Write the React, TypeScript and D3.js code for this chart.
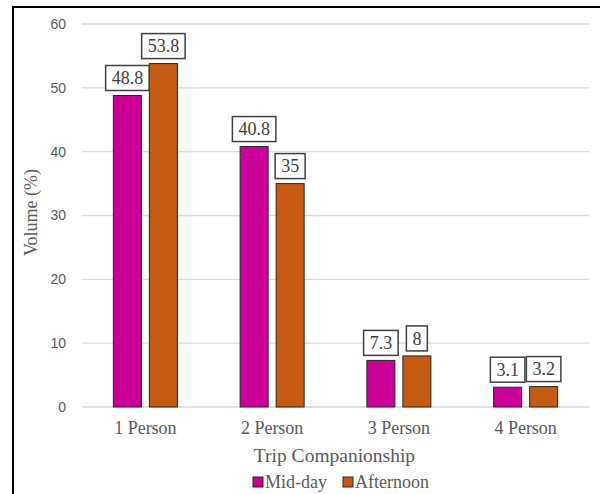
import React, { useEffect, useRef } from "react";
import * as d3 from "d3";

const categories = ["1 Person", "2 Person", "3 Person", "4 Person"];
const seriesNames = ["Mid-day", "Afternoon"];
const midDay = [48.8, 40.8, 7.3, 3.1];
const afternoon = [53.8, 35, 8, 3.2];
const yTicks = [0, 10, 20, 30, 40, 50, 60];
const seriesColors = ["#CC0099", "#C55A11"];

const W = 600;
const H = 494;
const SERIF = "Liberation Serif";
const SANS = "Liberation Sans";

export default function App() {
  const ref = useRef<SVGSVGElement | null>(null);

  useEffect(() => {
    const svg = d3.select(ref.current);
    svg.selectAll("*").remove();

    const left = 82;
    const right = 589;
    const top = 24;
    const bottom = 407;

    const x0 = d3.scaleBand<string>().domain(categories).range([left, right]).padding(0);
    const x1 = d3
      .scaleBand<string>()
      .domain(seriesNames)
      .range([0, 64])
      .paddingInner(8 / 36)
      .paddingOuter(0);
    const y = d3.scaleLinear().domain([0, 60]).range([bottom, top]);

    // outer frame (top and left edges)
    svg
      .append("rect")
      .attr("x", 13)
      .attr("y", 7)
      .attr("width", 700)
      .attr("height", 700)
      .attr("fill", "none")
      .attr("stroke", "#000")
      .attr("stroke-width", 2);

    // gridlines
    svg
      .append("g")
      .selectAll("line")
      .data(yTicks)
      .join("line")
      .attr("x1", left)
      .attr("x2", right)
      .attr("y1", (d) => y(d))
      .attr("y2", (d) => y(d))
      .attr("stroke", "#d9d9d9")
      .attr("stroke-width", 1.3);

    // y tick labels
    svg
      .append("g")
      .selectAll("text")
      .data(yTicks)
      .join("text")
      .attr("x", 66)
      .attr("y", (d) => y(d))
      .attr("dy", "0.35em")
      .attr("text-anchor", "end")
      .style("font-family", SANS)
      .style("font-size", "14px")
      .attr("fill", "#595959")
      .text((d) => String(d));

    // y axis title
    svg
      .append("text")
      .attr("transform", `translate(37,${(top + bottom) / 2 - 3}) rotate(-90)`)
      .attr("text-anchor", "middle")
      .style("font-family", SERIF)
      .style("font-size", "18px")
      .attr("fill", "#595959")
      .text("Volume (%)");

    const groupOffset = (x0.bandwidth() - 64) / 2;
    const rows = categories.map((c, i) => ({
      cat: c,
      values: [
        { s: seriesNames[0], v: midDay[i], color: seriesColors[0] },
        { s: seriesNames[1], v: afternoon[i], color: seriesColors[1] },
      ],
    }));

    const groups = svg
      .append("g")
      .selectAll("g")
      .data(rows)
      .join("g")
      .attr("transform", (d) => `translate(${(x0(d.cat) as number) + groupOffset},0)`);

    groups
      .selectAll("rect")
      .data((d) => d.values)
      .join("rect")
      .attr("x", (d) => x1(d.s) as number)
      .attr("y", (d) => y(d.v))
      .attr("width", x1.bandwidth())
      .attr("height", (d) => bottom - y(d.v))
      .attr("fill", (d) => d.color)
      .attr("stroke", "#262626")
      .attr("stroke-width", 1);

    // data labels in boxes
    const labels = groups
      .selectAll("g.lbl")
      .data((d) => d.values)
      .join("g")
      .attr("class", "lbl");

    labels.each(function (d) {
      const g = d3.select(this);
      const cx = (x1(d.s) as number) + x1.bandwidth() / 2;
      const boxBottom = y(d.v) - 5;
      const boxH = 25;
      const rect = g.append("rect");
      const t = g
        .append("text")
        .attr("x", cx)
        .attr("y", boxBottom - boxH / 2)
        .attr("dy", "0.35em")
        .attr("text-anchor", "middle")
        .style("font-family", SERIF)
        .style("font-size", "18px")
        .attr("fill", "#404040")
        .text(String(d.v));
      const tw = (t.node() as SVGTextElement).getComputedTextLength();
      const bw = tw + 12;
      rect
        .attr("x", cx - bw / 2)
        .attr("y", boxBottom - boxH)
        .attr("width", bw)
        .attr("height", boxH)
        .attr("fill", "#fff")
        .attr("stroke", "#404040")
        .attr("stroke-width", 1.5);
    });

    // category labels
    svg
      .append("g")
      .selectAll("text")
      .data(categories)
      .join("text")
      .attr("x", (d) => (x0(d) as number) + x0.bandwidth() / 2)
      .attr("y", 428)
      .attr("dy", "0.35em")
      .attr("text-anchor", "middle")
      .style("font-family", SERIF)
      .style("font-size", "18px")
      .attr("fill", "#595959")
      .text((d) => d);

    // x axis title
    svg
      .append("text")
      .attr("x", (left + right) / 2 - 1)
      .attr("y", 455)
      .attr("dy", "0.35em")
      .attr("text-anchor", "middle")
      .style("font-family", SERIF)
      .style("font-size", "19.5px")
      .attr("fill", "#595959")
      .text("Trip Companionship");

    // legend
    const legendX = [253, 343];
    const lg = svg
      .append("g")
      .selectAll("g")
      .data(seriesNames)
      .join("g")
      .attr("transform", (_d, i) => `translate(${legendX[i]},477)`);
    lg.append("rect")
      .attr("width", 10)
      .attr("height", 10)
      .attr("fill", (_d, i) => seriesColors[i])
      .attr("stroke", "#262626")
      .attr("stroke-width", 1);
    lg.append("text")
      .attr("x", 12)
      .attr("y", 5)
      .attr("dy", "0.35em")
      .style("font-family", SERIF)
      .style("font-size", "18px")
      .attr("fill", "#595959")
      .text((d) => d);
  }, []);

  return (
    <svg
      ref={ref}
      width={W}
      height={H}
      style={{ position: "absolute", left: 0, top: 0, background: "#fff" }}
    />
  );
}
